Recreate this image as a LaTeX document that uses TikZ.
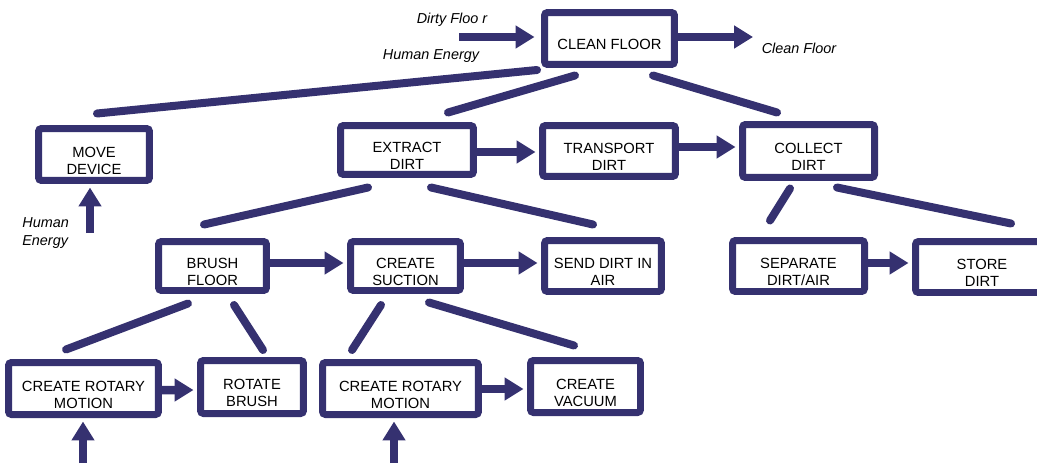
\documentclass[tikz,border=0pt]{standalone}
\usepackage{fontspec}
\setmainfont{Liberation Sans}
\usetikzlibrary{arrows.meta}
\usetikzlibrary{calc}
\definecolor{fnblue}{RGB}{53,49,112}
\newcommand{\boxlbl}[1]{\raisebox{-0.16cm}[\height][\depth]{\begin{tabular}{@{}c@{}}#1\end{tabular}}}
\tikzset{
    fnbox/.style={draw=fnblue, line width=0.14cm, rounded corners=0.06cm, fill=white, inner sep=0pt, font=\fontsize{8.4}{9.6}\selectfont},
    fnline/.style={draw=fnblue, line width=0.16cm, line cap=round},
    fnarrow/.style={draw=fnblue, line width=0.17cm, -{Triangle[length=0.38cm,width=0.44cm]}, shorten >=0.07cm},
    flowlbl/.style={font=\fontsize{8.2}{10.2}\selectfont\itshape, inner sep=0pt},
}

\begin{document}
\begin{tikzpicture}[x=0.02cm,y=-0.02cm]
            \useasboundingbox (0,0) rectangle (1037,463);
            \node[fnbox, minimum width=2.60cm, minimum height=1.04cm] (clean) at (609.5,38.5) {\boxlbl{CLEAN FLOOR}};
            \node[fnbox, minimum width=2.22cm, minimum height=1.04cm] (move) at (94,154.5) {\boxlbl{MOVE\\DEVICE}};
            \node[fnbox, minimum width=2.66cm, minimum height=0.98cm] (extract) at (407,150) {\boxlbl{EXTRACT\\DIRT}};
            \node[fnbox, minimum width=2.66cm, minimum height=1.02cm] (transport) at (609,151) {\boxlbl{TRANSPORT\\DIRT}};
            \node[fnbox, minimum width=2.64cm, minimum height=1.06cm] (collect) at (808.5,151) {\boxlbl{COLLECT\\DIRT}};
            \node[fnbox, minimum width=2.16cm, minimum height=0.98cm] (brush) at (212.5,266) {\boxlbl{BRUSH\\FLOOR}};
            \node[fnbox, minimum width=2.20cm, minimum height=0.98cm] (suction) at (405.5,266) {\boxlbl{CREATE\\SUCTION}};
            \node[fnbox, minimum width=2.34cm, minimum height=1.02cm] (send) at (603,266) {\boxlbl{SEND DIRT IN\\AIR}};
            \node[fnbox, minimum width=2.64cm, minimum height=1.02cm] (separate) at (798.5,266) {\boxlbl{SEPARATE\\DIRT/AIR}};
            \node[fnbox, minimum width=2.66cm, minimum height=1.02cm] (store) at (982,267) {\boxlbl{STORE\\DIRT}};
            \node[fnbox, minimum width=3.00cm, minimum height=1.04cm] (crm1) at (83.5,388.5) {\boxlbl{CREATE ROTARY\\MOTION}};
            \node[fnbox, minimum width=2.06cm, minimum height=1.06cm] (rotate) at (252,387) {\boxlbl{ROTATE\\BRUSH}};
            \node[fnbox, minimum width=3.12cm, minimum height=1.04cm] (crm2) at (400.5,388.5) {\boxlbl{CREATE ROTARY\\MOTION}};
            \node[fnbox, minimum width=2.20cm, minimum height=1.04cm] (vacuum) at (585.5,386.5) {\boxlbl{CREATE\\VACUUM}};

            \node[flowlbl] (dirtylbl) at (452,20) {Dirty Floo r};
            \node[flowlbl] (humanlbl) at (431,56) {Human Energy};
            \node[flowlbl] (cleanlbl) at (799,48) {Clean Floor};
            \node[flowlbl, align=left, anchor=west] (humanlbl2) at (22,233) {Human\\Energy};

            \draw[fnline] ($(clean.south west)+(-4,2)$) -- ($(move.north)+(3,-11.5)$);
            \draw[fnline] ($(clean.south)+(-34.5,7.5)$) -- ($(extract.north)+(41,-9.5)$);
            \draw[fnline] ($(clean.south)+(43.5,7.5)$) -- ($(collect.north)+(-31.5,-8.5)$);
            \draw[fnline] ($(extract.south)+(-39,9.5)$) -- ($(brush.north)+(-8.5,-13.5)$);
            \draw[fnline] ($(extract.south)+(24,9.5)$) -- ($(send.north)+(-10,-12.5)$);
            \draw[fnline] ($(collect.south)+(-18.5,7.5)$) -- ($(separate.north)+(-28.5,-16.5)$);
            \draw[fnline] ($(collect.south)+(28.5,6.5)$) -- ($(store.north)+(29,-14.5)$);
            \draw[fnline] ($(brush.south)+(-24.5,9.5)$) -- ($(crm1.north)+(-17.5,-9.5)$);
            \draw[fnline] ($(brush.south)+(21.5,11)$) -- ($(rotate.north)+(11,-7)$);
            \draw[fnline] ($(suction.south)+(-24.5,11)$) -- ($(crm2.north)+(-48.5,-9)$);
            \draw[fnline] ($(suction.south)+(23.5,8.5)$) -- ($(vacuum.north)+(-11.5,-11.5)$);

            \draw[fnarrow] ($(extract.east)+(0,2)$) -- ($(transport.west)+(0,1)$);
            \draw[fnarrow] ($(transport.east)+(0,-4)$) -- ($(collect.west)+(0,-4)$);
            \draw[fnarrow] ($(brush.east)+(0,-3)$) -- ($(suction.west)+(0,-3)$);
            \draw[fnarrow] ($(suction.east)+(0,-3)$) -- ($(send.west)+(0,-3)$);
            \draw[fnarrow] ($(separate.east)+(0,-3)$) -- ($(store.west)+(0,-4)$);
            \draw[fnarrow] ($(crm1.east)+(0,1.5)$) -- ($(rotate.west)+(0,3)$);
            \draw[fnarrow] ($(crm2.east)+(0,0.5)$) -- ($(vacuum.west)+(0,2.5)$);

            \coordinate (hm0) at (90,233);
            \coordinate (hm1) at (83,463);
            \coordinate (hm2) at (394,463);
            \coordinate (dirty) at (459,37);
            \coordinate (cleaned) at (753,37);
            \draw[fnarrow] (hm0) -- (hm0 |- move.south);
            \draw[fnarrow] (hm1) -- (hm1 |- crm1.south);
            \draw[fnarrow] (hm2) -- (hm2 |- crm2.south);
            \draw[fnarrow, shorten >=0.13cm] (dirty) -- (dirty -| clean.west);
            \draw[fnarrow, shorten >=0pt] (clean.east |- cleaned) -- (cleaned);
        \end{tikzpicture}
\end{document}
